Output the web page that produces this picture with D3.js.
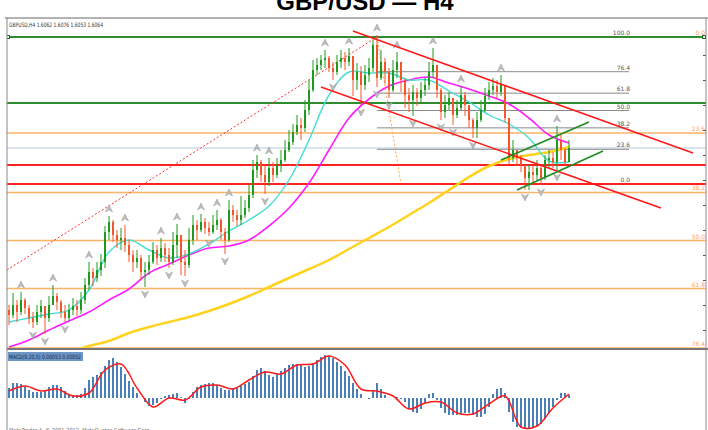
<!DOCTYPE html>
<html lang="en">
  <head>
    <meta charset="UTF-8" />
    <title>GBP/USD H4</title>
    <style>
      body { margin: 0; background: #fff; }
      svg { display: block; font-family: "DejaVu Sans", sans-serif; }
    </style>
  </head>
  <body>
    <div id="chart"></div>

    <script src="https://d3js.org/d3.v7.min.js"></script>
    <script>

    // GBPUSD H4 candles (open = previous close)
    var firstOpen = 1.5740;
    var closes = [
      1.5730,1.5750,1.5736,1.5760,1.5744,1.5724,1.5716,1.5736,1.5748,1.5724,
      1.5750,1.5768,1.5756,1.5736,1.5724,1.5740,1.5748,1.5740,1.5760,1.5790,
      1.5816,1.5804,1.5820,1.5836,1.5896,1.5916,1.5890,1.5880,1.5884,1.5870,
      1.5850,1.5836,1.5844,1.5816,1.5820,1.5836,1.5860,1.5844,1.5864,1.5850,
      1.5836,1.5870,1.5890,1.5836,1.5830,1.5880,1.5910,1.5900,1.5916,1.5904,
      1.5896,1.5910,1.5920,1.5896,1.5880,1.5940,1.5930,1.5920,1.5930,1.5944,
      1.5970,1.6020,1.6036,1.6010,1.5996,1.6024,1.6010,1.6030,1.6040,1.6060,
      1.6076,1.6096,1.6110,1.6104,1.6140,1.6180,1.6220,1.6230,1.6240,1.6244,
      1.6224,1.6216,1.6236,1.6244,1.6236,1.6248,1.6200,1.6216,1.6190,1.6210,
      1.6224,1.6270,1.6204,1.6236,1.6216,1.6180,1.6220,1.6236,1.6200,1.6170,
      1.6160,1.6176,1.6164,1.6180,1.6190,1.6216,1.6230,1.6180,1.6136,1.6150,
      1.6164,1.6130,1.6144,1.6170,1.6150,1.6120,1.6104,1.6120,1.6140,1.6168,
      1.6180,1.6188,1.6176,1.6190,1.6124,1.6044,1.6060,1.6044,1.6030,1.6004,
      1.6016,1.6010,1.6024,1.6004,1.6040,1.6044,1.6036,1.6080,1.6060,1.6036,
      1.6064
    ];
    var highs = [
      1.5750,1.5774,1.5760,1.5776,1.5764,1.5750,1.5736,1.5750,1.5760,1.5744,
      1.5768,1.5790,1.5774,1.5760,1.5750,1.5752,1.5764,1.5760,1.5776,1.5804,
      1.5836,1.5824,1.5836,1.5852,1.5908,1.5928,1.5920,1.5900,1.5904,1.5910,
      1.5880,1.5860,1.5860,1.5850,1.5836,1.5850,1.5876,1.5870,1.5884,1.5874,
      1.5864,1.5896,1.5912,1.5890,1.5860,1.5904,1.5930,1.5920,1.5932,1.5924,
      1.5916,1.5930,1.5940,1.5924,1.5904,1.5960,1.5950,1.5940,1.5968,1.5960,
      1.5990,1.6040,1.6050,1.6040,1.6030,1.6044,1.6036,1.6044,1.6060,1.6080,
      1.6100,1.6112,1.6130,1.6124,1.6160,1.6200,1.6240,1.6244,1.6250,1.6260,
      1.6248,1.6236,1.6250,1.6260,1.6256,1.6264,1.6244,1.6234,1.6228,1.6230,
      1.6244,1.6280,1.6290,1.6260,1.6244,1.6224,1.6240,1.6256,1.6230,1.6204,
      1.6184,1.6190,1.6184,1.6196,1.6204,1.6236,1.6264,1.6220,1.6184,1.6170,
      1.6176,1.6160,1.6160,1.6188,1.6176,1.6150,1.6124,1.6136,1.6160,1.6184,
      1.6196,1.6204,1.6200,1.6210,1.6180,1.6110,1.6080,1.6060,1.6050,1.6030,
      1.6030,1.6028,1.6040,1.6030,1.6050,1.6060,1.6056,1.6108,1.6090,1.6064,
      1.6080
    ];
    var lows = [
      1.5710,1.5724,1.5716,1.5730,1.5732,1.5712,1.5704,1.5710,1.5724,1.5692,
      1.5716,1.5750,1.5740,1.5724,1.5716,1.5718,1.5730,1.5728,1.5732,1.5752,
      1.5780,1.5788,1.5796,1.5808,1.5824,1.5880,1.5876,1.5864,1.5860,1.5856,
      1.5836,1.5816,1.5824,1.5800,1.5786,1.5810,1.5832,1.5830,1.5836,1.5836,
      1.5824,1.5830,1.5844,1.5810,1.5808,1.5824,1.5870,1.5880,1.5896,1.5892,
      1.5888,1.5892,1.5900,1.5880,1.5852,1.5876,1.5916,1.5908,1.5910,1.5924,
      1.5936,1.5964,1.6004,1.5996,1.5972,1.5988,1.5996,1.6004,1.6016,1.6036,
      1.6056,1.6070,1.6090,1.6080,1.6096,1.6130,1.6176,1.6210,1.6220,1.6224,
      1.6216,1.6200,1.6210,1.6224,1.6220,1.6228,1.6168,1.6180,1.6150,1.6180,
      1.6196,1.6216,1.6186,1.6200,1.6192,1.6164,1.6176,1.6204,1.6176,1.6144,
      1.6136,1.6128,1.6148,1.6152,1.6168,1.6180,1.6204,1.6164,1.6120,1.6124,
      1.6140,1.6110,1.6124,1.6140,1.6128,1.6104,1.6084,1.6084,1.6116,1.6136,
      1.6160,1.6170,1.6164,1.6168,1.6116,1.6032,1.6036,1.6028,1.6016,1.5980,
      1.5980,1.5996,1.6000,1.5990,1.6000,1.6024,1.6024,1.6020,1.6040,1.6028,
      1.6040
    ];

    var maEvery = 5;
    var maFast = [1.5716,1.5724,1.5732,1.5740,1.5780,1.5856,1.5880,1.5860,1.5844,1.5852,
                  1.5872,1.5898,1.5920,1.5948,1.6000,1.6080,1.6170,1.6216,1.6214,1.6214,
                  1.6200,1.6200,1.6178,1.6156,1.6130,1.6112,1.6084,1.6038,1.6036];
    var maMid = [1.5666,1.5680,1.5700,1.5718,1.5736,1.5760,1.5782,1.5814,1.5832,1.5850,
                 1.5864,1.5868,1.5880,1.5908,1.5944,1.5994,1.6060,1.6124,1.6162,1.6188,
                 1.6200,1.6206,1.6194,1.6182,1.6168,1.6152,1.6124,1.6090,1.6074];
    var maSlow = [null,null,null,1.5654,1.5668,1.5678,1.5694,1.5706,1.5716,1.5726,
                  1.5738,1.5752,1.5768,1.5786,1.5804,1.5822,1.5840,1.5862,1.5884,1.5906,
                  1.5930,1.5954,1.5980,1.6006,1.6028,1.6042,1.6050,1.6056,1.6066];

    var macdHist = [
      0.0010,0.0015,0.0015,0.0014,0.0011,0.0008,0.0006,0.0006,0.0006,0.0008,
      0.0011,0.0013,0.0013,0.0011,0.0007,0.0004,0.0003,0.0003,0.0004,0.0010,
      0.0018,0.0021,0.0023,0.0026,0.0032,0.0038,0.0040,0.0036,0.0031,0.0024,
      0.0017,0.0011,0.0005,0.0000,-0.0004,-0.0008,-0.0007,-0.0005,-0.0001,0.0002,
      0.0003,0.0004,0.0005,0.0001,-0.0005,-0.0001,0.0006,0.0011,0.0013,0.0014,
      0.0015,0.0015,0.0013,0.0010,0.0008,0.0008,0.0010,0.0011,0.0012,0.0014,
      0.0016,0.0022,0.0028,0.0030,0.0027,0.0023,0.0021,0.0024,0.0027,0.0030,
      0.0033,0.0034,0.0034,0.0034,0.0031,0.0032,0.0035,0.0038,0.0041,0.0043,
      0.0042,0.0040,0.0036,0.0032,0.0027,0.0022,0.0015,0.0009,0.0004,0.0000,
      -0.0001,0.0007,0.0015,0.0009,0.0003,0.0000,0.0000,0.0001,-0.0001,-0.0004,
      -0.0011,-0.0014,-0.0015,-0.0011,-0.0005,0.0004,0.0005,-0.0002,-0.0010,-0.0015,
      -0.0017,-0.0017,-0.0017,-0.0016,-0.0015,-0.0015,-0.0017,-0.0019,-0.0019,-0.0016,
      -0.0009,0.0004,0.0009,0.0010,0.0005,-0.0014,-0.0024,-0.0029,-0.0030,-0.0030,
      -0.0030,-0.0029,-0.0029,-0.0026,-0.0021,-0.0015,-0.0009,-0.0002,0.0005,0.0005,
      0.0003
    ];
    var signalEvery = 4;
    var macdSignal = [0.0007,0.0012,0.0007,0.0009,0.0002,0.0005,0.0028,0.0034,0.0010,-0.0009,
                      0.0000,-0.0002,0.0011,0.0013,0.0009,0.0018,0.0026,0.0024,0.0033,0.0034,
                      0.0042,0.0033,0.0009,0.0007,0.0002,-0.0011,-0.0005,-0.0004,-0.0015,-0.0016,
                      -0.0006,0.0002,-0.0029,-0.0028,-0.0010,0.0004];

    // horizontal levels and fibonacci
    var greenLevels = [1.6286, 1.6154];
    var redLevels = [1.6030, 1.5992];
    var fibRatios = [0, 23.6, 38.2, 50.0, 61.8, 76.4, 100.0];
    var fibSmall = [1.6286, 1.5992];   // high, low
    var fibBig = [1.6286, 1.5472];
    var fibSmallBars = [92, 98, 155];  // anchor 1, anchor 2, right end of levels

    // trend lines: [bar1, price1, bar2, price2]
    var redChannel = [[86, 1.6298, 171, 1.6054], [78, 1.6186, 163, 1.5944]];
    var greenChannel = [[123, 1.6040, 145, 1.6116], [127, 1.5980, 148.5, 1.6058]];
    var dottedTrend = [0, 1.5820, 92, 1.6286];

    var w = 708, h = 430;
    var padL = 7, padR = 706, panelTop = 18, mainBottom = 348, macdTop = 350;

    var svg = d3.select("#chart").append("svg")
      .attr("width", w)
      .attr("height", h);

    var x = d3.scaleLinear().domain([0, closes.length - 1]).range([9, 569]);
    var y = d3.scaleLinear().domain([1.5670, 1.6286]).range([345, 37]);
    var my = d3.scaleLinear().domain([-0.0030, 0.0040]).range([428, 358]);

    // title
    svg.append("text")
      .attr("x", 365).attr("y", 10)
      .attr("text-anchor", "middle")
      .style("font-family", "'Liberation Sans', Arial, sans-serif")
      .style("font-weight", "bold")
      .style("font-size", "24px")
      .text("GBP/USD \u2014 H4");

    var defs = svg.append("defs");
    defs.append("clipPath").attr("id", "clipMain")
      .append("rect").attr("x", padL).attr("y", panelTop).attr("width", padR - padL).attr("height", mainBottom - panelTop);
    defs.append("clipPath").attr("id", "clipMacd")
      .append("rect").attr("x", padL).attr("y", macdTop).attr("width", padR - padL).attr("height", h - macdTop);

    var main = svg.append("g").attr("clip-path", "url(#clipMain)");

    // orange fib levels across the whole chart
    var bigRange = fibBig[0] - fibBig[1];
    fibRatios.forEach(function(r) {
      var py = y(fibBig[0] - bigRange * r / 100);
      if (r != 0) {
        main.append("line").attr("x1", padL).attr("x2", padR).attr("y1", py).attr("y2", py)
          .attr("stroke", "#ffb366").attr("stroke-width", 1.5);
      }
      main.append("text").attr("x", padR - 1).attr("y", py - 2)
        .attr("text-anchor", "end").attr("fill", "#ffa54f").style("font-size", "6px")
        .text(r.toFixed(1));
    });

    // bid line
    main.append("line").attr("x1", padL).attr("x2", padR)
      .attr("y1", y(closes[closes.length - 1])).attr("y2", y(closes[closes.length - 1]))
      .attr("stroke", "#b7c8dc").attr("stroke-width", 1);

    // gray fib
    var smallRange = fibSmall[0] - fibSmall[1];
    fibRatios.forEach(function(r) {
      var py = y(fibSmall[1] + smallRange * r / 100);
      main.append("line").attr("x1", x(fibSmallBars[0])).attr("x2", x(fibSmallBars[2]))
        .attr("y1", py).attr("y2", py)
        .attr("stroke", "#8a8a8a").attr("stroke-width", 1);
      main.append("text").attr("x", x(fibSmallBars[2]) + 1).attr("y", py - 2)
        .attr("text-anchor", "end").attr("fill", "#555").style("font-size", "6px")
        .text(r.toFixed(1));
    });
    main.append("line")
      .attr("x1", x(fibSmallBars[0])).attr("y1", y(fibSmall[0]))
      .attr("x2", x(fibSmallBars[1])).attr("y2", y(fibSmall[1]))
      .attr("stroke", "#ffa54f").attr("stroke-width", 1).attr("stroke-dasharray", "2,2");

    // green and red horizontals
    greenLevels.forEach(function(p) {
      main.append("line").attr("x1", padL).attr("x2", padR).attr("y1", y(p)).attr("y2", y(p))
        .attr("stroke", "#2e8b2e").attr("stroke-width", 2);
    });
    redLevels.forEach(function(p) {
      main.append("line").attr("x1", padL).attr("x2", padR).attr("y1", y(p)).attr("y2", y(p))
        .attr("stroke", "#ff2020").attr("stroke-width", 2);
    });
    [padL + 1, padR - 2].forEach(function(px) {
      main.append("rect").attr("x", px - 1.5).attr("y", y(greenLevels[0]) - 1.5)
        .attr("width", 3).attr("height", 3).attr("fill", "#fff").attr("stroke", "#1d6b1d");
    });

    // red dotted trend line
    main.append("line")
      .attr("x1", x(dottedTrend[0]) - 2).attr("y1", y(dottedTrend[1]))
      .attr("x2", x(dottedTrend[2])).attr("y2", y(dottedTrend[3]))
      .attr("stroke", "#ff3030").attr("stroke-width", 1).attr("stroke-dasharray", "2,2");

    // moving averages
    function maLine(values, color, width) {
      var line = d3.line()
        .defined(function(d) { return d != null; })
        .x(function(d, i) { return x(i * maEvery); })
        .y(function(d) { return y(d); })
        .curve(d3.curveCatmullRom);
      main.append("path").datum(values).attr("d", line)
        .attr("fill", "none").attr("stroke", color).attr("stroke-width", width);
    }
    maLine(maSlow, "#ffd21f", 2.5);
    maLine(maMid, "#ff1aff", 1.6);
    maLine(maFast, "#45dcd6", 1.4);

    // candles
    var candles = closes.map(function(c, i) {
      return { i: i, o: i == 0 ? firstOpen : closes[i - 1], c: c, hi: highs[i], lo: lows[i] };
    });
    var cg = main.selectAll(".candle").data(candles).enter().append("g");
    cg.append("line")
      .attr("x1", function(d) { return x(d.i); })
      .attr("x2", function(d) { return x(d.i); })
      .attr("y1", function(d) { return y(Math.max(d.hi, d.o, d.c)); })
      .attr("y2", function(d) { return y(Math.min(d.lo, d.o, d.c)); })
      .attr("stroke", function(d) { return d.c >= d.o ? "#1e9b1e" : "#f2562a"; })
      .attr("stroke-width", 1);
    cg.append("rect")
      .attr("x", function(d) { return x(d.i) - 1; })
      .attr("width", 2)
      .attr("y", function(d) { return y(Math.max(d.o, d.c)); })
      .attr("height", function(d) { return Math.max(1, Math.abs(y(d.o) - y(d.c))); })
      .attr("fill", function(d) { return d.c >= d.o ? "#1e9b1e" : "#f2562a"; });

    // fractal arrows
    for (var i = 2; i < closes.length - 2; i++) {
      var px = x(i);
      if (highs[i] > highs[i - 1] && highs[i] > highs[i - 2] && highs[i] >= highs[i + 1] && highs[i] >= highs[i + 2]) {
        var ty = y(highs[i]) - 11;
        main.append("path")
          .attr("d", "M" + px + "," + ty + "l3.5,7l-3.5,-2.2l-3.5,2.2z")
          .attr("fill", "#bdbdbd").attr("stroke", "#959595").attr("stroke-width", 0.5);
      }
      if (lows[i] < lows[i - 1] && lows[i] < lows[i - 2] && lows[i] <= lows[i + 1] && lows[i] <= lows[i + 2]) {
        var by = y(lows[i]) + 11;
        main.append("path")
          .attr("d", "M" + px + "," + by + "l3.5,-7l-3.5,2.2l-3.5,-2.2z")
          .attr("fill", "#bdbdbd").attr("stroke", "#959595").attr("stroke-width", 0.5);
      }
    }

    // channels
    function trend(t, color, width) {
      main.append("line")
        .attr("x1", x(t[0])).attr("y1", y(t[1]))
        .attr("x2", x(t[2])).attr("y2", y(t[3]))
        .attr("stroke", color).attr("stroke-width", width);
    }
    redChannel.forEach(function(t) { trend(t, "#ff1a1a", 1.6); });
    greenChannel.forEach(function(t) { trend(t, "#1f8a1f", 1.6); });

    // header
    svg.append("text").attr("x", 9).attr("y", 27)
      .attr("fill", "#333").style("font-size", "6px")
      .attr("textLength", 94).attr("lengthAdjust", "spacingAndGlyphs")
      .text("GBPUSD,H4  1.6062 1.6076 1.6053 1.6064");

    // price scale ticks on the right border
    svg.append("g")
      .attr("transform", "translate(" + padR + ",0)")
      .call(d3.axisLeft(y).ticks(12).tickSize(3).tickFormat(""))
      .call(function(g) { g.select(".domain").remove(); })
      .selectAll("line").attr("stroke", "#555");

    // MACD panel
    var macd = svg.append("g").attr("clip-path", "url(#clipMacd)");
    macd.selectAll(".bar").data(macdHist).enter().append("rect")
      .attr("x", function(d, i) { return x(i) - 1; })
      .attr("width", 2)
      .attr("y", function(d) { return Math.min(my(0), my(d)); })
      .attr("height", function(d) { return Math.abs(my(d) - my(0)); })
      .attr("fill", "#4a80b5");
    var sigLine = d3.line()
      .x(function(d, i) { return x(i * signalEvery); })
      .y(function(d) { return my(d); })
      .curve(d3.curveCatmullRom);
    macd.append("path").datum(macdSignal).attr("d", sigLine)
      .attr("fill", "none").attr("stroke", "#ff1a1a").attr("stroke-width", 1.5);

    svg.append("rect").attr("x", 8).attr("y", 352).attr("width", 75).attr("height", 9)
      .attr("fill", "#6d95c6");
    svg.append("text").attr("x", 9).attr("y", 359)
      .attr("fill", "#1b2b45").style("font-size", "6px")
      .attr("textLength", 72).attr("lengthAdjust", "spacingAndGlyphs")
      .text("MACD(9,20,5) 0.00053 0.00052");

    svg.append("text").attr("x", 9).attr("y", 433)
      .attr("fill", "#777").style("font-size", "7px")
      .attr("textLength", 142).attr("lengthAdjust", "spacingAndGlyphs")
      .text("MetaTrader 4, \u00a9 2001-2013, MetaQuotes Software Corp.");

    // frames
    svg.append("line").attr("x1", padL - 2).attr("x2", w).attr("y1", panelTop).attr("y2", panelTop)
      .attr("stroke", "#9a9a9a").attr("stroke-width", 1.5);
    svg.append("line").attr("x1", padL).attr("x2", w).attr("y1", 349).attr("y2", 349)
      .attr("stroke", "#777").attr("stroke-width", 2);
    svg.append("line").attr("x1", padL).attr("x2", padL).attr("y1", panelTop).attr("y2", h)
      .attr("stroke", "#8a8a8a").attr("stroke-width", 1);
    svg.append("line").attr("x1", padR).attr("x2", padR).attr("y1", panelTop).attr("y2", h)
      .attr("stroke", "#8a8a8a").attr("stroke-width", 1);

    </script>
  </body>
</html>
